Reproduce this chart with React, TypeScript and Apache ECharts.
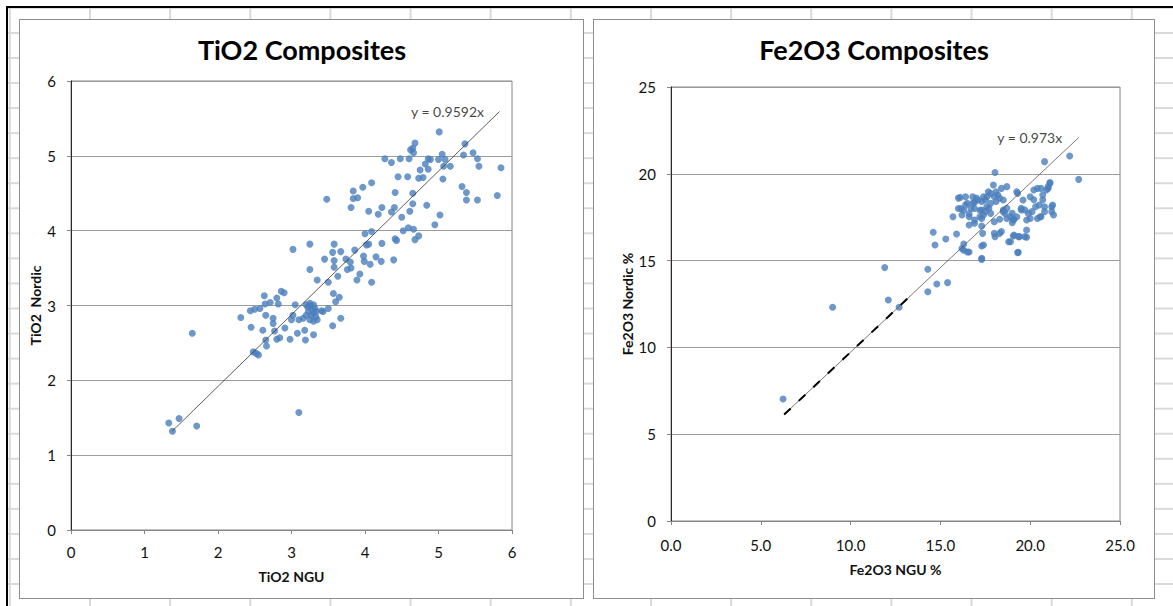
import React, { useEffect, useRef } from "react";
import * as echarts from "echarts";

// ---------------- DATA ----------------
// TiO2 composites: [NGU, Nordic]
const tio2Samples: [number, number][] = [
  [5.01, 5.32], [4.68, 5.17], [4.65, 5.1], [4.62, 5.08], [4.66, 5.04], [5.36, 5.16], [5.34, 5.01], [5.47, 5.04],
  [5.53, 4.96], [5.55, 4.86], [5.85, 4.84], [4.48, 4.96], [4.27, 4.96], [4.36, 4.91], [4.6, 4.96], [4.75, 4.81],
  [4.82, 4.89], [4.86, 4.96], [4.89, 4.95], [5.0, 4.95], [5.05, 5.02], [5.09, 4.95], [5.16, 4.86], [5.07, 4.86],
  [4.86, 4.82], [4.45, 4.72], [4.58, 4.72], [4.73, 4.7], [4.79, 4.71], [5.06, 4.69], [4.09, 4.64], [3.97, 4.58],
  [5.32, 4.59], [5.38, 4.51], [5.38, 4.41], [5.53, 4.41], [5.8, 4.47], [3.84, 4.53], [3.84, 4.43], [3.9, 4.44],
  [3.81, 4.31], [3.48, 4.42], [4.41, 4.51], [4.65, 4.5], [4.65, 4.36], [4.84, 4.34], [4.61, 4.26], [4.5, 4.18],
  [4.4, 4.31], [4.36, 4.25], [4.23, 4.31], [4.18, 4.22], [4.05, 4.26], [5.02, 4.21], [4.95, 4.08], [4.52, 4.0],
  [4.59, 4.04], [4.66, 4.02], [4.73, 3.93], [4.68, 3.88], [4.41, 3.89], [4.43, 3.87], [4.09, 3.99], [4.0, 3.96],
  [4.05, 3.82], [4.02, 3.81], [4.23, 3.83], [4.39, 3.61], [4.15, 3.65], [4.22, 3.59], [3.98, 3.66], [3.99, 3.59],
  [4.07, 3.55], [3.86, 3.74], [3.67, 3.72], [3.56, 3.71], [3.58, 3.82], [3.02, 3.75], [3.25, 3.82], [3.45, 3.62],
  [3.58, 3.6], [3.74, 3.62], [3.8, 3.58], [3.81, 3.5], [3.76, 3.48], [3.25, 3.48], [3.58, 3.51], [3.93, 3.42],
  [3.89, 3.34], [4.09, 3.31], [3.63, 3.39], [3.35, 3.34], [3.5, 3.31], [3.57, 3.16], [3.65, 3.11], [3.6, 3.05],
  [2.63, 3.13], [2.8, 3.1], [2.86, 3.19], [2.9, 3.17], [2.71, 3.04], [2.82, 3.02], [2.64, 3.02], [2.57, 2.96],
  [2.5, 2.95], [2.44, 2.93], [2.31, 2.84], [2.65, 2.87], [2.75, 2.83], [2.75, 2.76], [2.45, 2.71], [2.61, 2.67],
  [2.77, 2.66], [2.91, 2.7], [2.8, 2.55], [2.84, 2.57], [2.98, 2.55], [2.65, 2.54], [2.66, 2.46], [2.48, 2.38],
  [2.52, 2.36], [2.55, 2.34], [3.08, 2.63], [3.18, 2.67], [3.19, 2.54], [3.3, 2.61], [3.05, 3.01], [3.02, 2.87],
  [3.0, 2.81], [3.1, 2.81], [3.2, 3.01], [3.25, 3.03], [3.3, 3.01], [3.32, 2.96], [3.34, 2.92], [3.23, 2.92],
  [3.2, 2.87], [3.27, 2.87], [3.33, 2.85], [3.16, 2.83], [3.25, 2.81], [3.3, 2.79], [3.35, 2.81], [3.41, 2.93],
  [3.43, 2.92], [3.22, 2.98], [3.28, 2.95], [3.26, 3.0], [3.3, 2.9], [3.5, 2.96], [3.56, 2.73], [3.67, 2.83],
  [1.65, 2.63], [3.1, 1.57], [1.33, 1.43], [1.47, 1.49], [1.38, 1.32], [1.71, 1.39],
];

// Fe2O3 composites: [NGU %, Nordic %]
const fe2o3Samples: [number, number][] = [
  [22.2, 21.03], [20.8, 20.7], [18.04, 20.07], [22.7, 19.68], [21.1, 19.5], [20.6, 19.16], [20.9, 19.07], [21.0, 19.26],
  [20.4, 19.16], [18.7, 19.26], [18.4, 19.16], [18.1, 18.97], [17.8, 18.87], [17.6, 18.68], [17.4, 18.68], [18.0, 18.68],
  [18.3, 18.59], [18.5, 18.49], [18.1, 18.4], [17.8, 18.3], [17.5, 18.49], [17.3, 18.4], [17.1, 18.49], [19.25, 18.97],
  [19.3, 18.87], [16.1, 18.64], [16.4, 18.68], [16.8, 18.68], [16.9, 18.34], [16.5, 18.3], [16.7, 18.0], [16.0, 18.0],
  [16.3, 17.9], [17.3, 17.91], [17.5, 17.82], [17.7, 18.01], [17.8, 17.72], [17.4, 17.63], [17.2, 17.53], [15.7, 17.53],
  [16.2, 17.63], [16.6, 17.53], [16.6, 17.05], [16.9, 17.15], [17.3, 16.99], [18.0, 17.24], [18.3, 17.38], [18.6, 17.72],
  [18.9, 17.53], [19.1, 17.38], [19.25, 17.53], [19.0, 17.18], [18.7, 18.01], [18.5, 17.92], [19.5, 18.01], [19.7, 17.92],
  [19.9, 17.72], [20.0, 17.43], [19.8, 16.76], [20.3, 18.1], [20.5, 18.2], [20.7, 18.5], [20.2, 18.5], [20.0, 18.68],
  [21.2, 18.1], [21.3, 17.63], [20.4, 17.43], [20.6, 17.53], [20.8, 17.82], [18.0, 16.57], [18.3, 16.57], [19.1, 16.47],
  [19.35, 16.38], [19.7, 16.38], [18.8, 16.09], [17.35, 16.57], [14.6, 16.63], [15.3, 16.24], [15.9, 16.53], [14.7, 15.9],
  [16.3, 15.96], [16.3, 15.6], [16.6, 15.5], [17.3, 15.84], [19.3, 15.46], [17.3, 15.07], [11.9, 14.6], [14.3, 14.5],
  [14.8, 13.65], [15.4, 13.73], [14.3, 13.21], [12.1, 12.73], [12.7, 12.31], [9.0, 12.31], [6.24, 7.03],
  [17.95, 19.35], [17.67, 18.97], [18.2, 18.78], [17.58, 18.1], [17.2, 17.9], [18.5, 17.82], [19.0, 17.72], [19.06, 17.34],
  [18.7, 17.43], [17.3, 17.43], [16.9, 18.0], [17.0, 18.6], [16.0, 18.6], [16.4, 18.2], [16.8, 18.3], [16.15, 18.0],
  [16.6, 17.7], [16.9, 17.34], [19.6, 18.49], [20.2, 19.07], [20.7, 18.78], [21.0, 19.16], [21.1, 19.45], [20.8, 18.1],
  [21.25, 18.2], [21.2, 17.82], [20.55, 17.53], [20.1, 17.82], [19.8, 17.34], [19.5, 17.91], [18.4, 16.67], [19.06, 16.42],
  [19.4, 16.38], [19.8, 16.34], [18.9, 16.09], [17.4, 15.9], [18.04, 16.38], [16.2, 15.7], [16.5, 15.5], [17.3, 15.13],
  [19.34, 15.48],
];

const tio2Trend = { slope: 0.9592, label: "y = 0.9592x", xStart: 1.38, xEnd: 5.83 };
const fe2o3Trend = { slope: 0.973, label: "y = 0.973x", xStart: 6.3, xEnd: 22.7, dashEnd: 13.3 };

const tio2Axis = { min: 0, max: 6, interval: 1 };
const fe2o3Axis = { min: 0, max: 25, interval: 5 };

const titles = ["TiO2 Composites", "Fe2O3 Composites"];
const axisNames = { tio2X: "TiO2 NGU", tio2Y: "TiO2  Nordic", feX: "Fe2O3 NGU %", feY: "Fe2O3 Nordic %" };

// ---------------- STYLE ----------------
const FONT = 'Lato, "Liberation Sans", sans-serif';
const MARKER = "#4a7ebb";
const AXIS_GRAY = "#868686";

function trendPoints(t: { slope: number; xStart: number; xEnd: number }, end?: number) {
  const e = end ?? t.xEnd;
  return [
    [t.xStart, t.slope * t.xStart],
    [e, t.slope * e],
  ];
}

function xAxisOf(gridIndex: number, a: any, name: string, nameGap: number, margin: number, fmt?: (v: number) => string) {
  return {
    type: "value",
    gridIndex,
    min: a.min,
    max: a.max,
    interval: a.interval,
    axisLine: { show: true, onZero: false, lineStyle: { color: AXIS_GRAY, width: 1 } },
    axisTick: { show: true, length: 4, lineStyle: { color: AXIS_GRAY } },
    axisLabel: { color: "#111", fontSize: 15, margin, fontFamily: FONT, formatter: fmt },
    splitLine: { show: false },
    name,
    nameLocation: "middle",
    nameGap,
    nameTextStyle: { fontWeight: "bold", fontSize: 14, color: "#111", fontFamily: FONT },
  };
}

function yAxisOf(gridIndex: number, a: any, name: string, nameGap: number, margin: number) {
  return {
    type: "value",
    gridIndex,
    min: a.min,
    max: a.max,
    interval: a.interval,
    axisLine: { show: true, onZero: false, lineStyle: { color: AXIS_GRAY, width: 1 } },
    axisTick: { show: true, length: 4, lineStyle: { color: AXIS_GRAY } },
    axisLabel: { color: "#111", fontSize: 15, margin, fontFamily: FONT },
    splitLine: { show: true, lineStyle: { color: "#9c9c9c", width: 1 } },
    name,
    nameLocation: "middle",
    nameGap,
    nameRotate: 90,
    nameTextStyle: { fontWeight: "bold", fontSize: 14, color: "#111", fontFamily: FONT },
  };
}

function rightEdgeAxis(gridIndex: number, a: any) {
  return {
    type: "value",
    gridIndex,
    position: "right",
    min: a.min,
    max: a.max,
    interval: a.interval,
    axisLine: { show: true, lineStyle: { color: "#2a2a2a", width: 1 } },
    axisTick: { show: false },
    axisLabel: { show: false },
    splitLine: { show: false },
  };
}

function trendLabelSeries(xi: number, yi: number, t: any, distance: number) {
  return {
    type: "scatter",
    xAxisIndex: xi,
    yAxisIndex: yi,
    symbolSize: 1,
    itemStyle: { color: "transparent" },
    silent: true,
    data: [
      {
        value: [t.xEnd, t.slope * t.xEnd],
        label: {
          show: true,
          position: "left",
          distance,
          formatter: t.label,
          fontSize: 14,
          color: "#111",
          fontFamily: FONT,
        },
      },
    ],
  };
}

function titleText(text: string, x: number) {
  return {
    type: "text",
    x,
    y: 49,
    style: {
      text,
      fontSize: 27,
      fontWeight: "bold",
      fontFamily: FONT,
      fill: "#000",
      align: "center",
      verticalAlign: "middle",
    },
  };
}

export default function App() {
  const ref = useRef<HTMLDivElement>(null);

  useEffect(() => {
    if (!ref.current) return;
    const chart = echarts.init(ref.current, undefined, { renderer: "svg" });
    const option: any = {
      animation: false,
      textStyle: { fontFamily: FONT },
      graphic: [titleText(titles[0], 302), titleText(titles[1], 874)],
      grid: [
        { left: 71, top: 81, width: 441, height: 449, show: true, borderColor: AXIS_GRAY, borderWidth: 1, backgroundColor: "transparent" },
        { left: 671, top: 87, width: 449, height: 434, show: true, borderColor: AXIS_GRAY, borderWidth: 1, backgroundColor: "transparent" },
      ],
      xAxis: [
        xAxisOf(0, tio2Axis, axisNames.tio2X, 39, 14),
        xAxisOf(1, fe2o3Axis, axisNames.feX, 41, 16, (v: number) => v.toFixed(1)),
      ],
      yAxis: [
        yAxisOf(0, tio2Axis, axisNames.tio2Y, 29, 15),
        yAxisOf(1, fe2o3Axis, axisNames.feY, 37, 15),
        rightEdgeAxis(0, tio2Axis),
        rightEdgeAxis(1, fe2o3Axis),
      ],
      series: [
        {
          type: "scatter",
          xAxisIndex: 0,
          yAxisIndex: 0,
          symbol: "circle",
          symbolSize: 7,
          itemStyle: { color: MARKER },
          data: tio2Samples,
          z: 3,
        },
        {
          type: "line",
          xAxisIndex: 0,
          yAxisIndex: 0,
          showSymbol: false,
          symbol: "none",
          lineStyle: { color: "#333", width: 0.8 },
          data: trendPoints(tio2Trend),
          z: 4,
        },
        trendLabelSeries(0, 0, tio2Trend, 15),
        {
          type: "scatter",
          xAxisIndex: 1,
          yAxisIndex: 1,
          symbol: "circle",
          symbolSize: 7,
          itemStyle: { color: MARKER },
          data: fe2o3Samples,
          z: 3,
        },
        {
          type: "line",
          xAxisIndex: 1,
          yAxisIndex: 1,
          showSymbol: false,
          symbol: "none",
          lineStyle: { color: "#555", width: 0.8 },
          data: trendPoints(fe2o3Trend),
          z: 4,
        },
        {
          type: "line",
          xAxisIndex: 1,
          yAxisIndex: 1,
          showSymbol: false,
          symbol: "none",
          lineStyle: { color: "#000", width: 2, type: [9, 11] },
          data: trendPoints(fe2o3Trend, fe2o3Trend.dashEnd),
          z: 4,
        },
        trendLabelSeries(1, 1, fe2o3Trend, 16),
      ],
    };
    chart.setOption(option);
    return () => chart.dispose();
  }, []);

  const gridLine = "#d9d9d9";
  return (
    <div
      style={{
        position: "fixed",
        left: 0,
        top: 0,
        width: 1173,
        height: 606,
        overflow: "hidden",
        background: "#fff",
      }}
    >
      <div
        style={{
          position: "absolute",
          left: 8,
          top: 8,
          right: 0,
          bottom: 0,
          backgroundImage: `linear-gradient(to right, ${gridLine} 2px, transparent 2px), linear-gradient(to bottom, ${gridLine} 2px, transparent 2px)`,
          backgroundSize: "80.15px 100%, 100% 25.05px",
          backgroundPosition: "0.85px 0, 0 -1.05px",
        }}
      />
      <div style={{ position: "absolute", left: 6, top: 6, right: 0, height: 2, background: "#000" }} />
      <div style={{ position: "absolute", left: 6, top: 6, bottom: 0, width: 2, background: "#000" }} />
      <div
        style={{
          position: "absolute",
          left: 19,
          top: 19,
          width: 565,
          height: 580,
          boxSizing: "border-box",
          border: "1px solid #8e8e8e",
          background: "#fff",
        }}
      />
      <div
        style={{
          position: "absolute",
          left: 593,
          top: 19,
          width: 562,
          height: 580,
          boxSizing: "border-box",
          border: "1px solid #8e8e8e",
          background: "#fff",
        }}
      />
      <div ref={ref} style={{ position: "absolute", left: 0, top: 0, width: 1173, height: 606 }} />
    </div>
  );
}
